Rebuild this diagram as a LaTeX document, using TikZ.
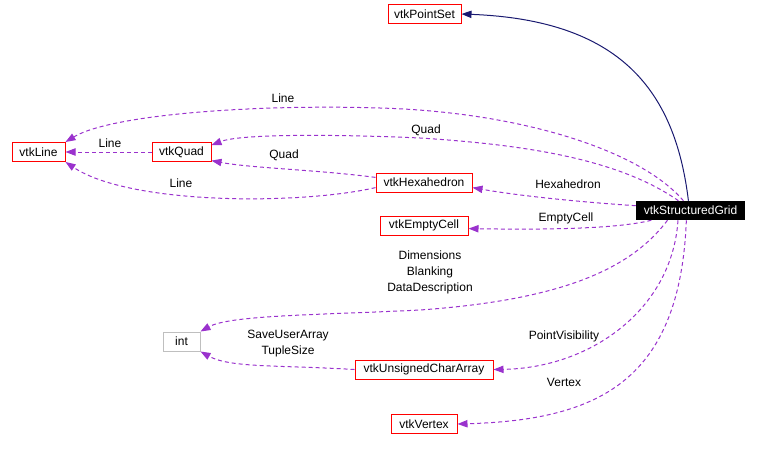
\documentclass[tikz,border=0pt]{standalone}
\usepackage{fontspec}
\setmainfont{Liberation Sans}
\usetikzlibrary{arrows.meta}
\definecolor{edgepurple}{HTML}{9A32CD}
\definecolor{edgenavy}{HTML}{191970}
\definecolor{boxred}{HTML}{FF0000}
\definecolor{boxgray}{HTML}{BFBFBF}
\begin{document}
\begin{tikzpicture}[x=0.75pt,y=-0.75pt,
  every node/.style={font=\fontsize{9pt}{12pt}\selectfont},
  cls/.style={draw=boxred,line width=0.75pt,minimum height=14.25pt,inner sep=0pt},
  ext/.style={draw=boxgray,line width=0.75pt,minimum height=14.25pt,inner sep=0pt},
  cur/.style={fill=black,text=white,minimum height=14.25pt,inner sep=0pt},
  lbl/.style={align=center,inner sep=0pt},
  usage/.style={draw=edgepurple,line width=0.75pt,dash pattern=on 3pt off 2.25pt,
    -{Triangle[length=7.5pt,width=5.5pt,fill=edgepurple]}},
  inherit/.style={draw=edgenavy,line width=0.75pt,
    -{Triangle[length=7.5pt,width=5.5pt,fill=edgenavy]}}]
\useasboundingbox (0,0) rectangle (760,450);
% nodes
\node[cls,minimum width=54.75pt] (ps) at (424.5,14) {vtkPointSet};
\node[cls,minimum width=39.75pt] (line) at (38.5,152) {vtkLine};
\node[cls,minimum width=44.25pt] (quad) at (181.5,152) {vtkQuad};
\node[cls,minimum width=72pt] (hex) at (424,182.5) {vtkHexahedron};
\node[cls,minimum width=66pt] (empty) at (424,225.5) {vtkEmptyCell};
\node[cur,minimum width=81.75pt] (grid) at (690.5,210.5) {vtkStructuredGrid};
\node[ext,minimum width=27.75pt] (int) at (181.5,341.5) {int};
\node[cls,minimum width=103.5pt] (uca) at (424,369.5) {vtkUnsignedCharArray};
\node[cls,minimum width=49.5pt] (vertex) at (424,424) {vtkVertex};
% edges
\draw[inherit] (grid.102) .. controls (675,90) and (620,20) .. (ps.east);
\draw[usage] (grid.126) .. controls (640,150) and (520,112) .. (380,108)
  .. controls (250,104) and (110,115) .. (line.north east);
\draw[usage] (grid.141.6) .. controls (620,160) and (530,145) .. (420,138)
  .. controls (330,134) and (240,134) .. (quad.13);
\draw[usage] (hex.174.6) .. controls (320,170) and (250,168) .. (quad.-16);
\draw[usage] (hex.186.5) .. controls (300,205) and (130,205) .. (line.south east);
\draw[usage] (quad.west) -- (line.east);
\draw[usage] (grid.175.8) .. controls (580,202) and (520,196) .. (hex.-6.5);
\draw[usage] (grid.194) .. controls (620,228) and (560,230) .. (empty.-4.5);
\draw[usage] (grid.203.4) .. controls (630,270) and (560,300) .. (420,310)
  .. controls (320,315) and (230,315) .. (int.north east);
\draw[usage] (grid.218.4) .. controls (672,310) and (590,368) .. (uca.east);
\draw[usage] (grid.247) .. controls (680,380) and (600,420) .. (vertex.east);
\draw[usage] (uca.west) .. controls (280,365) and (230,368) .. (int.south east);
% labels
\node[lbl] (l1) at (283,98) {Line};
\node[lbl] (l2) at (426,130) {Quad};
\node[lbl] (l3) at (284,155) {Quad};
\node[lbl] (l4) at (110,143) {Line};
\node[lbl] (l5) at (181,183) {Line};
\node[lbl] (l6) at (568,184) {Hexahedron};
\node[lbl] (l7) at (566,218) {EmptyCell};
\node[lbl] (l8) at (430,272) {Dimensions\\Blanking\\DataDescription};
\node[lbl] (l9) at (564,336) {PointVisibility};
\node[lbl] (l10) at (564,382) {Vertex};
\node[lbl] (l11) at (288,344) {SaveUserArray\\TupleSize};
\end{tikzpicture}
\end{document}
